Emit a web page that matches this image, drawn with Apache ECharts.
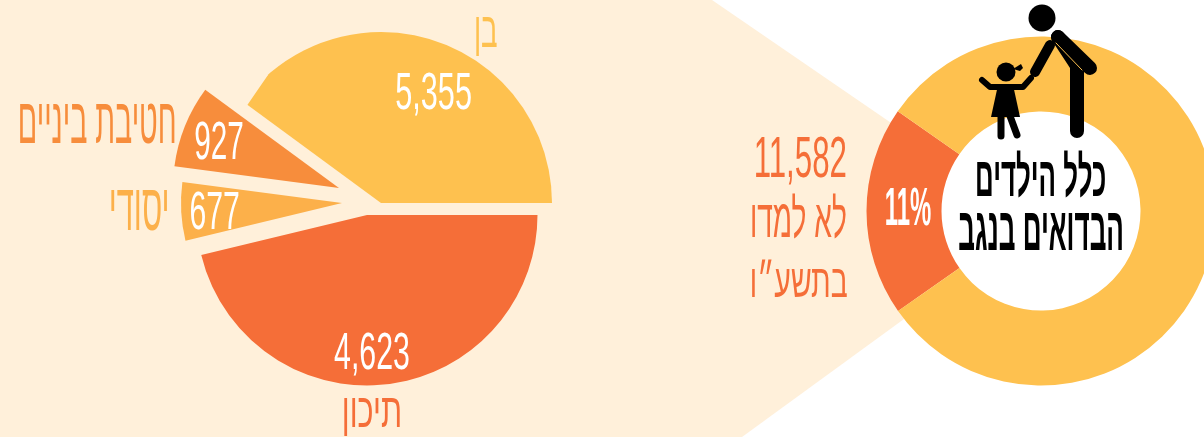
<!DOCTYPE html>
<html lang="he">
<head>
<meta charset="utf-8">
<script src="https://cdn.jsdelivr.net/npm/echarts@6/dist/echarts.min.js"></script>
<style>html,body{margin:0;padding:0;background:#fff}#c{width:1204px;height:437px}</style>
</head>
<body>
<div id="c"></div>
<script>
// Drawn wedge sizes, counter-clockwise from the right-hand edge
const wedgeValues = [4623, 927, 677, 5355];
const wedgeColors = ['#FEC14F', '#F78D3C', '#FCB04A', '#F56E38'];
// Printed labels on those wedges (as printed in the source)
const wedgeNumbers = ['5,355', '927', '677', '4,623'];
const wedgeNames = ['בן', 'חטיבת ביניים', 'יסודי', 'תיכון'];
// Ring: share drawn for the highlighted part and for the rest
const ringValues = [19.4, 80.6];
const ringColors = ['#F56E38', '#FEC14F'];
const ringLabel = '11%';
const totalLabel = '11,582';
const sideLines = ['לא למדו', 'בתשע״ו'];
const centreLines = ['כלל הילדים', 'הבדואים בנגב'];

const BG = '#FFF0DA';
const wedgeGeom = [
  {c: [381, 203], r: 171},
  {c: [339, 188], r: 166},
  {c: [342, 203], r: 161},
  {c: [367, 215], r: 170.5}
];
const total = wedgeValues.reduce((a, b) => a + b, 0);
let cum = 0;
const series = wedgeValues.map((v, i) => {
  const start = cum / total * 360;
  cum += v;
  return {
    type: 'pie', center: wedgeGeom[i].c, radius: [0, wedgeGeom[i].r],
    startAngle: start, clockwise: false, silent: true, animation: false,
    label: {show: false}, labelLine: {show: false},
    data: [
      {value: v, name: wedgeNames[i], itemStyle: {color: wedgeColors[i]}},
      {value: total - v, name: '', itemStyle: {color: 'rgba(0,0,0,0)'}}
    ]
  };
});
series.push({
  type: 'pie', center: [1041, 211], radius: [99.5, 174.5],
  startAngle: 215, clockwise: true, silent: true, animation: false,
  label: {show: false}, labelLine: {show: false},
  data: ringValues.map((v, i) => ({value: v, itemStyle: {color: ringColors[i]}}))
});

const mctx = document.createElement('canvas').getContext('2d');
// text fitted into a box: x0..x1 wide, y0..y1 for the glyph height
function fit(text, x0, x1, y0, y1, fill, weight) {
  const size = 40;
  const font = (weight || 'normal') + ' ' + size + 'px "Liberation Sans", "DejaVu Sans", sans-serif';
  mctx.font = font;
  mctx.textBaseline = 'middle';
  mctx.textAlign = 'left';
  const m = mctx.measureText(text);
  const w = m.actualBoundingBoxLeft + m.actualBoundingBoxRight;
  const h = m.actualBoundingBoxAscent + m.actualBoundingBoxDescent;
  const sx = (x1 - x0) / w, sy = (y1 - y0) / h;
  return {
    type: 'text', z: 20, scaleX: sx, scaleY: sy,
    x: x0 + m.actualBoundingBoxLeft * sx,
    y: y0 + m.actualBoundingBoxAscent * sy,
    style: {text: text, font: font, fill: fill, align: 'left', verticalAlign: 'middle'}
  };
}
function line(pts, w, color) {
  return {type: 'polyline', z: 30, shape: {points: pts}, style: {stroke: color || '#000', lineWidth: w, lineCap: 'round', lineJoin: 'round', fill: 'none'}};
}
const elements = [
  {type: 'polygon', z: 0, shape: {points: [[0,0],[712,0],[900,129],[915,311],[742,437],[0,437]]}, style: {fill: BG}},
  {type: 'polygon', z: 5, shape: {points: [[236,99],[247,105.5],[259,88],[268,75],[250,72]]}, style: {fill: BG}},
  {type: 'circle', z: 25, shape: {cx: 1042, cy: 18, r: 13.5}, style: {fill: '#000'}},
  line([[1058,37],[1090,68]], 14),
  line([[1058,37],[1077,66],[1077,131]], 14),
  line([[1050,45],[1035,72]], 10),
  line([[1056,43],[1082,70]], 1, '#FEC14F'),
  {type: 'circle', z: 25, shape: {cx: 1006, cy: 72, r: 9.5}, style: {fill: '#000'}},
  {type: 'polygon', z: 25, shape: {points: [[1013,69],[1021,64],[1023,68],[1020,71]]}, style: {fill: '#000'}},
  line([[982,80],[990,87],[1023,87],[1031,78]], 6),
  {type: 'polygon', z: 25, shape: {points: [[998,85],[1013,85],[1020,117],[991,117]]}, style: {fill: '#000'}},
  line([[1001,116],[1001,136]], 7),
  line([[1010,116],[1017,135]], 7),
  fit(wedgeNumbers[0], 396, 471, 73, 115, '#fff'),
  fit(wedgeNumbers[1], 195, 243, 122, 159, '#fff'),
  fit(wedgeNumbers[2], 191, 239, 191, 229, '#fff'),
  fit(wedgeNumbers[3], 334, 409, 333, 375, '#fff'),
  fit(wedgeNames[0], 476, 497, 17, 57, '#FEC14F'),
  fit(wedgeNames[1], 20, 175, 104, 143, '#F78D3C'),
  fit(wedgeNames[2], 111, 167, 190, 230, '#FCB04A'),
  fit(wedgeNames[3], 344, 400, 398, 437, '#F56E38'),
  fit(ringLabel, 886, 931, 188, 225, '#fff', 'bold'),
  fit(totalLabel, 756, 846, 137, 184, '#F56E38'),
  fit(sideLines[0], 752, 846, 192, 238, '#F56E38'),
  fit(sideLines[1], 752, 847, 259, 297, '#F56E38'),
  fit(centreLines[0], 977, 1105, 150, 199, '#000', 'bold'),
  fit(centreLines[1], 959, 1122, 213, 250, '#000', 'bold')
];

const chart = echarts.init(document.getElementById('c'), null, {renderer: 'canvas'});
chart.setOption({
  backgroundColor: '#fff',
  animation: false,
  tooltip: {show: false},
  graphic: {elements: elements},
  series: series
});
</script>
</body>
</html>
